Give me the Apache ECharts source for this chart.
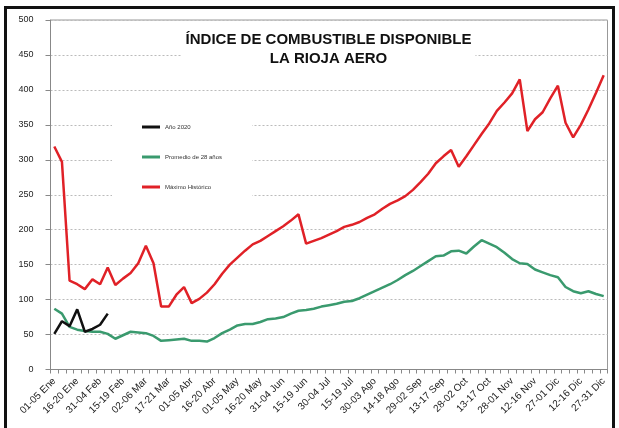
<!DOCTYPE html>
<html>
<head>
<meta charset="utf-8">
<script src="https://cdn.jsdelivr.net/npm/echarts@6/dist/echarts.min.js"></script>
<style>
html,body{margin:0;padding:0;background:#fff;}
#chart{width:619px;height:428px;}
</style>
</head>
<body>
<div id="chart"></div>
<script>
const categories = ["01-05 Ene","06-10 Ene","11-15 Ene","16-20 Ene","21-25 Ene","26-30 Ene","31-04 Feb","05-09 Feb","10-14 Feb","15-19 Feb","20-24 Feb","25-01 Mar","02-06 Mar","07-11 Mar","12-16 Mar","17-21 Mar","22-26 Mar","27-31 Mar","01-05 Abr","06-10 Abr","11-15 Abr","16-20 Abr","21-25 Abr","26-30 Abr","01-05 May","06-10 May","11-15 May","16-20 May","21-25 May","26-30 May","31-04 Jun","05-09 Jun","10-14 Jun","15-19 Jun","20-24 Jun","25-29 Jun","30-04 Jul","05-09 Jul","10-14 Jul","15-19 Jul","20-24 Jul","25-29 Jul","30-03 Ago","04-08 Ago","09-13 Ago","14-18 Ago","19-23 Ago","24-28 Ago","29-02 Sep","03-07 Sep","08-12 Sep","13-17 Sep","18-22 Sep","23-27 Sep","28-02 Oct","03-07 Oct","08-12 Oct","13-17 Oct","18-22 Oct","23-27 Oct","28-01 Nov","02-06 Nov","07-11 Nov","12-16 Nov","17-21 Nov","22-26 Nov","27-01 Dic","02-06 Dic","07-11 Dic","12-16 Dic","17-21 Dic","22-26 Dic","27-31 Dic"];
const anio2020 = [51, 69, 62, 86, 54, 58, 64, 80];
const promedio28 = [87, 80, 61, 57, 55, 54, 54, 51, 44, 49, 54, 53, 52, 48, 41, 42, 43, 44, 41, 41, 40, 45, 52, 57, 63, 65, 65, 68, 72, 73, 75, 80, 84, 85, 87, 90, 92, 94, 97, 98, 102, 107, 112, 117, 122, 128, 135, 141, 148, 155, 162, 163, 169, 170, 166, 176, 185, 180, 175, 167, 158, 152, 151, 143, 139, 135, 132, 118, 112, 109, 112, 108, 105];
const maximoHistorico = [319, 297, 127, 122, 115, 129, 122, 146, 121, 130, 138, 152, 177, 152, 90, 90, 107, 118, 95, 101, 110, 122, 137, 150, 160, 170, 179, 184, 191, 198, 205, 213, 222, 180, 184, 188, 193, 198, 204, 207, 211, 217, 222, 230, 237, 242, 248, 257, 268, 280, 295, 305, 314, 290, 305, 321, 337, 352, 370, 382, 395, 415, 341, 358, 368, 388, 406, 353, 332, 350, 372, 396, 421];
const yTicks = {min: 0, max: 500, interval: 50};
const seriesNames = ["Año 2020", "Promedio de 28 años", "Máximo Histórico"];
const titleLines = ["ÍNDICE DE COMBUSTIBLE DISPONIBLE", "LA RIOJA AERO"];

const FONT = "'Liberation Sans', Arial, sans-serif";
const chart = echarts.init(document.getElementById('chart'), null, {renderer: 'canvas'});
chart.setOption({
  animation: false,
  backgroundColor: '#fff',
  textStyle: {fontFamily: FONT},
  title: {
    text: titleLines.join('\n'),
    left: 324.5,
    top: 28.5,
    textAlign: 'center',
    backgroundColor: '#fff',
    padding: [2, 4, 2, 4],
    textStyle: {fontSize: 15, fontWeight: 'bold', color: '#111', lineHeight: 19, fontFamily: FONT}
  },
  legend: {
    orient: 'vertical',
    left: 112,
    top: 104,
    padding: [19, 30, 20, 30],
    backgroundColor: '#fff',
    itemWidth: 18,
    itemHeight: 3,
    itemGap: 22,
    icon: 'rect',
    textStyle: {fontSize: 6, lineHeight: 8, color: '#333', fontFamily: FONT},
    data: seriesNames
  },
  grid: {left: 50.5, right: 11.5, top: 20, bottom: 58.5, containLabel: false},
  xAxis: {
    type: 'category',
    data: categories,
    boundaryGap: true,
    axisLine: {lineStyle: {color: '#888', width: 1}},
    axisTick: {show: true, interval: 0, length: 4, lineStyle: {color: '#888'}},
    axisLabel: {interval: 2, rotate: 45, fontSize: 10, color: '#222', margin: 10, fontFamily: FONT},
    splitLine: {show: false}
  },
  yAxis: {
    type: 'value',
    min: yTicks.min, max: yTicks.max, interval: yTicks.interval,
    axisLine: {show: true, lineStyle: {color: '#888', width: 1}},
    axisTick: {show: true, length: 5, lineStyle: {color: '#888'}},
    axisLabel: {fontSize: 9, color: '#222', margin: 17, fontFamily: FONT},
    splitLine: {show: true, lineStyle: {color: '#bbb', type: [2, 2], width: 1}}
  },
  graphic: [
    {type: 'rect', shape: {x: 50.5, y: 20, width: 557, height: 349.5}, style: {fill: 'none', stroke: '#999', lineWidth: 1}, z: -1, silent: true},
    {type: 'rect', shape: {x: 5.5, y: 7.5, width: 608, height: 440}, style: {fill: 'none', stroke: '#111', lineWidth: 3}, z: 100, silent: true}
  ],
  series: [
    {name: seriesNames[2], type: 'line', data: maximoHistorico, symbol: 'none', lineStyle: {color: '#e02127', width: 2.5}, itemStyle: {color: '#e02127'}, z: 2},
    {name: seriesNames[1], type: 'line', data: promedio28, symbol: 'none', lineStyle: {color: '#3a9a6e', width: 2.5}, itemStyle: {color: '#3a9a6e'}, z: 3},
    {name: seriesNames[0], type: 'line', data: anio2020, symbol: 'none', lineStyle: {color: '#111', width: 2.5}, itemStyle: {color: '#111'}, z: 4}
  ]
});
</script>
</body>
</html>
